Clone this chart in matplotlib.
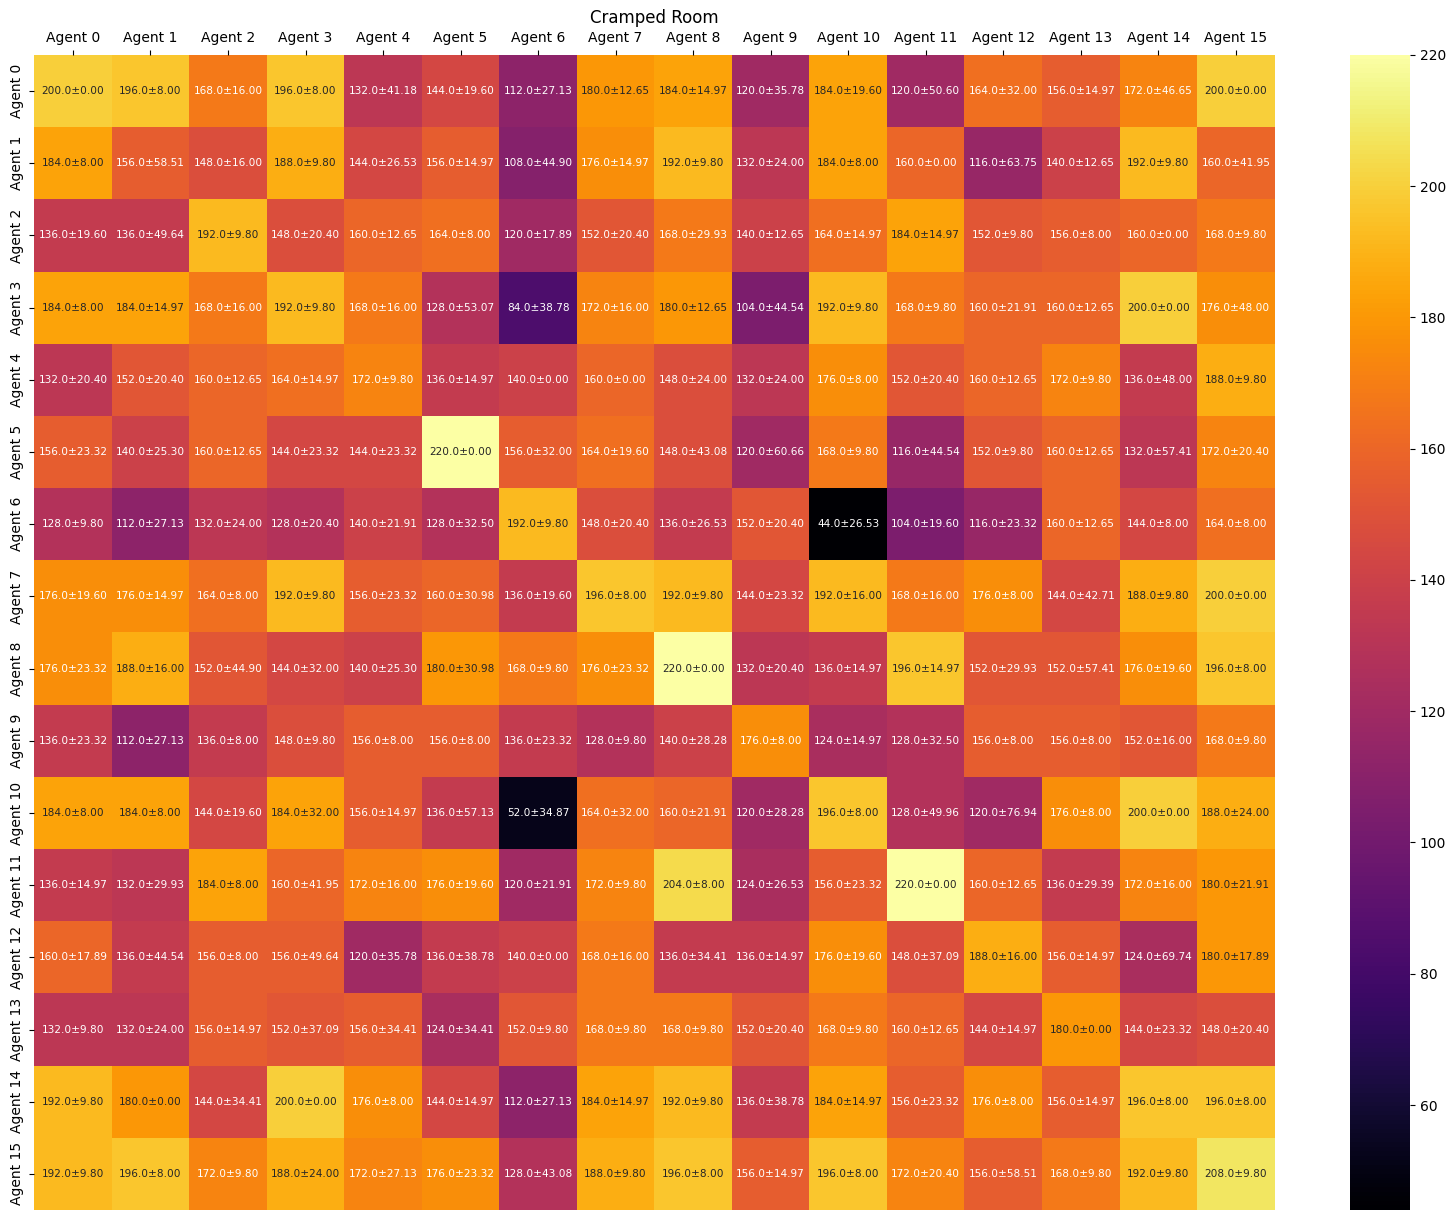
import numpy as np
import matplotlib
matplotlib.use("Agg")
from matplotlib import pyplot as plt
import seaborn as sns

agents = ["Agent %d" % i for i in range(16)]

means = [
    [200, 196, 168, 196, 132, 144, 112, 180, 184, 120, 184, 120, 164, 156, 172, 200],
    [184, 156, 148, 188, 144, 156, 108, 176, 192, 132, 184, 160, 116, 140, 192, 160],
    [136, 136, 192, 148, 160, 164, 120, 152, 168, 140, 164, 184, 152, 156, 160, 168],
    [184, 184, 168, 192, 168, 128, 84, 172, 180, 104, 192, 168, 160, 160, 200, 176],
    [132, 152, 160, 164, 172, 136, 140, 160, 148, 132, 176, 152, 160, 172, 136, 188],
    [156, 140, 160, 144, 144, 220, 156, 164, 148, 120, 168, 116, 152, 160, 132, 172],
    [128, 112, 132, 128, 140, 128, 192, 148, 136, 152, 44, 104, 116, 160, 144, 164],
    [176, 176, 164, 192, 156, 160, 136, 196, 192, 144, 192, 168, 176, 144, 188, 200],
    [176, 188, 152, 144, 140, 180, 168, 176, 220, 132, 136, 196, 152, 152, 176, 196],
    [136, 112, 136, 148, 156, 156, 136, 128, 140, 176, 124, 128, 156, 156, 152, 168],
    [184, 184, 144, 184, 156, 136, 52, 164, 160, 120, 196, 128, 120, 176, 200, 188],
    [136, 132, 184, 160, 172, 176, 120, 172, 204, 124, 156, 220, 160, 136, 172, 180],
    [160, 136, 156, 156, 120, 136, 140, 168, 136, 136, 176, 148, 188, 156, 124, 180],
    [132, 132, 156, 152, 156, 124, 152, 168, 168, 152, 168, 160, 144, 180, 144, 148],
    [192, 180, 144, 200, 176, 144, 112, 184, 192, 136, 184, 156, 176, 156, 196, 196],
    [192, 196, 172, 188, 172, 176, 128, 188, 196, 156, 196, 172, 156, 168, 192, 208],
]

stds = [
    [0.00, 8.00, 16.00, 8.00, 41.18, 19.60, 27.13, 12.65, 14.97, 35.78, 19.60, 50.60, 32.00, 14.97, 46.65, 0.00],
    [8.00, 58.51, 16.00, 9.80, 26.53, 14.97, 44.90, 14.97, 9.80, 24.00, 8.00, 0.00, 63.75, 12.65, 9.80, 41.95],
    [19.60, 49.64, 9.80, 20.40, 12.65, 8.00, 17.89, 20.40, 29.93, 12.65, 14.97, 14.97, 9.80, 8.00, 0.00, 9.80],
    [8.00, 14.97, 16.00, 9.80, 16.00, 53.07, 38.78, 16.00, 12.65, 44.54, 9.80, 9.80, 21.91, 12.65, 0.00, 48.00],
    [20.40, 20.40, 12.65, 14.97, 9.80, 14.97, 0.00, 0.00, 24.00, 24.00, 8.00, 20.40, 12.65, 9.80, 48.00, 9.80],
    [23.32, 25.30, 12.65, 23.32, 23.32, 0.00, 32.00, 19.60, 43.08, 60.66, 9.80, 44.54, 9.80, 12.65, 57.41, 20.40],
    [9.80, 27.13, 24.00, 20.40, 21.91, 32.50, 9.80, 20.40, 26.53, 20.40, 26.53, 19.60, 23.32, 12.65, 8.00, 8.00],
    [19.60, 14.97, 8.00, 9.80, 23.32, 30.98, 19.60, 8.00, 9.80, 23.32, 16.00, 16.00, 8.00, 42.71, 9.80, 0.00],
    [23.32, 16.00, 44.90, 32.00, 25.30, 30.98, 9.80, 23.32, 0.00, 20.40, 14.97, 14.97, 29.93, 57.41, 19.60, 8.00],
    [23.32, 27.13, 8.00, 9.80, 8.00, 8.00, 23.32, 9.80, 28.28, 8.00, 14.97, 32.50, 8.00, 8.00, 16.00, 9.80],
    [8.00, 8.00, 19.60, 32.00, 14.97, 57.13, 34.87, 32.00, 21.91, 28.28, 8.00, 49.96, 76.94, 8.00, 0.00, 24.00],
    [14.97, 29.93, 8.00, 41.95, 16.00, 19.60, 21.91, 9.80, 8.00, 26.53, 23.32, 0.00, 12.65, 29.39, 16.00, 21.91],
    [17.89, 44.54, 8.00, 49.64, 35.78, 38.78, 0.00, 16.00, 34.41, 14.97, 19.60, 37.09, 16.00, 14.97, 69.74, 17.89],
    [9.80, 24.00, 14.97, 37.09, 34.41, 34.41, 9.80, 9.80, 9.80, 20.40, 9.80, 12.65, 14.97, 0.00, 23.32, 20.40],
    [9.80, 0.00, 34.41, 0.00, 8.00, 14.97, 27.13, 14.97, 9.80, 38.78, 14.97, 23.32, 8.00, 14.97, 8.00, 8.00],
    [9.80, 8.00, 9.80, 24.00, 27.13, 23.32, 43.08, 9.80, 8.00, 14.97, 8.00, 20.40, 58.51, 9.80, 9.80, 9.80],
]

m = np.array(means, dtype=float)
s = np.array(stds, dtype=float)
labels = np.array([["%.1f±%.2f" % (m[i, j], s[i, j]) for j in range(16)]
                   for i in range(16)])

fig = plt.figure(figsize=(14.55, 12.21), dpi=100)
ax = fig.add_axes([0.0235, 0.009, 0.8525, 0.946])
cax = fig.add_axes([0.928, 0.009, 0.041, 0.946])

sns.heatmap(m, annot=labels, fmt="", cmap="inferno", ax=ax, cbar_ax=cax,
            xticklabels=agents, yticklabels=agents,
            annot_kws={"fontsize": 7.6})
ax.xaxis.tick_top()
ax.xaxis.set_label_position("top")
ax.set_title("Cramped Room")
ax.tick_params(axis="x", rotation=0)
cax.tick_params(labelsize=10)

fig.savefig("out.png")
